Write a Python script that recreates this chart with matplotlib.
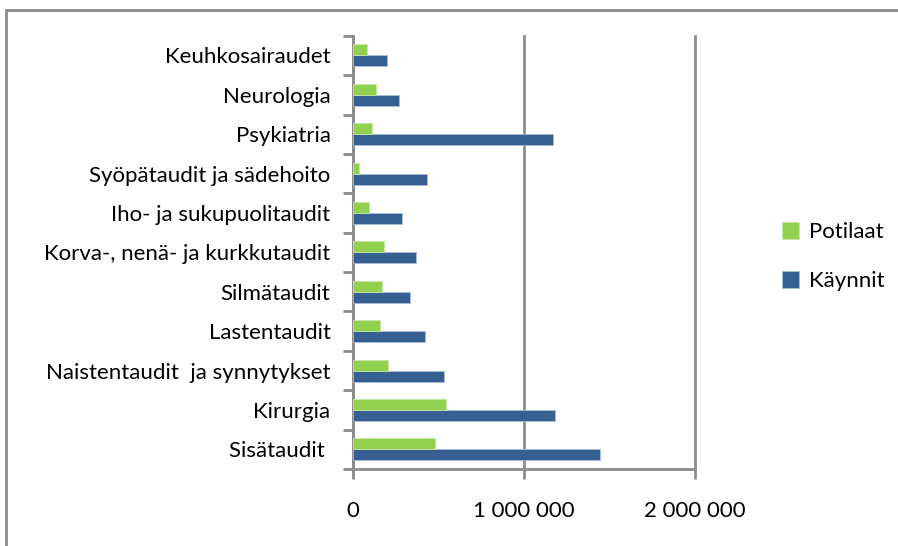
import numpy as np
import matplotlib.pyplot as plt
from matplotlib.patches import Rectangle

# categories, bottom to top
categories = ['Sisätaudit ', 'Kirurgia', 'Naistentaudit  ja synnytykset', 'Lastentaudit',
              'Silmätaudit', 'Korva-, nenä- ja kurkkutaudit', 'Iho- ja sukupuolitaudit',
              'Syöpätaudit ja sädehoito', 'Psykiatria', 'Neurologia', 'Keuhkosairaudet']
kaynnit = [1446000, 1181000, 534000, 423000, 335000, 368000, 290000, 435000, 1170000, 269000, 202000]
potilaat = [480000, 546000, 205000, 160000, 170000, 181000, 94000, 37000, 115000, 136000, 82000]
xticks = [0, 1000000, 2000000]
xticklabels = ['0', '1 000 000', '2 000 000']

plt.rcParams['font.family'] = ['Lato', 'DejaVu Sans']
fs = 16

fig = plt.figure(figsize=(8.98, 5.46), dpi=100)
ax = fig.add_axes([0.3928, 0.141, 0.381, 0.7935])

green = '#92d050'
blue = '#366092'
y = np.arange(len(categories))
h = 0.28
ax.barh(y - h/2, kaynnit, height=h, color=blue, edgecolor='#a9bdd6', linewidth=0.6, label='Käynnit', zorder=3)
ax.barh(y + h/2, potilaat, height=h, color=green, edgecolor='#c6e6a4', linewidth=0.6, label='Potilaat', zorder=3)

ax.set_xlim(0, 2000000)
ax.set_ylim(-0.5, len(categories) - 0.5)
ax.set_xticks(xticks)
ax.set_xticklabels(xticklabels, fontsize=fs)
ax.set_yticks(y)
ax.set_yticklabels(categories, fontsize=fs)
ax.set_yticks(np.arange(-0.5, len(categories), 1), minor=True)
ax.tick_params(axis='y', which='major', length=0, pad=16)
ax.tick_params(axis='y', which='minor', length=7, width=2, color='#8c8c8c', direction='out')
ax.tick_params(axis='x', length=7, width=2, color='#8c8c8c', direction='out', pad=16)
ax.grid(axis='x', color='#8c8c8c', linewidth=2, zorder=0)
for gl in ax.get_xgridlines():
    gl.set_clip_on(False)
for s in ['top', 'right']:
    ax.spines[s].set_visible(False)
for s in ['left', 'bottom']:
    ax.spines[s].set_color('#8c8c8c')
    ax.spines[s].set_linewidth(2)

handles, labels = ax.get_legend_handles_labels()
ax.legend(handles[::-1], labels[::-1], loc='center left', bbox_to_anchor=(1.255, 0.49),
          frameon=False, fontsize=fs, handlelength=0.75, handleheight=0.75,
          labelspacing=1.3, handletextpad=0.45, borderpad=0, borderaxespad=0)

# outer chart frame
fig.patches.append(Rectangle((6/898, -0.1), 1.2, 1 - 10/546 + 0.1, transform=fig.transFigure,
                             fill=False, edgecolor='#8c8c8c', linewidth=2))

fig.savefig('out.png', dpi=100)
